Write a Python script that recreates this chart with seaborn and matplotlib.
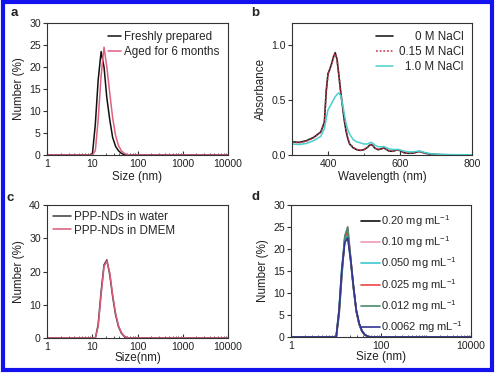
import numpy as np
import pandas as pd
import matplotlib
matplotlib.use("Agg")
import matplotlib.pyplot as plt
import seaborn as sns
from matplotlib.patches import Rectangle
from matplotlib.ticker import LogLocator, NullFormatter, FixedLocator

# ---------------- data ----------------
# Panel a: DLS size distribution, fresh vs aged
size_a = [1, 9.0, 10.1, 11.7, 13.5, 15.7, 18.2, 21.0, 24.4, 28.2, 32.7, 37.8, 43.8, 50.7, 58.8, 68.1, 10000]
fresh_a = [0, 0, 0.3, 7.0, 17.0, 23.5, 20.0, 13.0, 8.0, 4.0, 2.0, 1.0, 0.4, 0.1, 0, 0, 0]
aged_a = [0, 0, 0, 1.0, 8.0, 18.0, 24.5, 20.0, 14.0, 8.5, 4.5, 2.2, 1.0, 0.4, 0.1, 0, 0]
labels_a = ["Freshly prepared", "Aged for 6 months"]

# Panel b: absorbance spectra
wl_b = [300, 320, 340, 360, 380, 390, 395, 400, 405, 410, 415, 420, 425, 430, 435, 440, 445, 450,
        455, 460, 470, 480, 490, 500, 510, 515, 520, 525, 530, 540, 550, 555, 560, 570, 580, 590,
        595, 600, 610, 620, 630, 640, 650, 655, 660, 670, 680, 690, 700, 720, 750, 800]
abs_0 = [0.12, 0.115, 0.13, 0.16, 0.21, 0.30, 0.58, 0.74, 0.78, 0.83, 0.89, 0.93, 0.87, 0.73, 0.58,
         0.45, 0.32, 0.22, 0.15, 0.10, 0.065, 0.048, 0.042, 0.048, 0.07, 0.088, 0.095, 0.085, 0.062,
         0.048, 0.058, 0.065, 0.055, 0.035, 0.034, 0.044, 0.047, 0.04, 0.022, 0.016, 0.016, 0.02,
         0.03, 0.031, 0.026, 0.016, 0.01, 0.006, 0.004, 0.002, 0.001, 0.0]
abs_015 = [0.115, 0.11, 0.125, 0.155, 0.205, 0.29, 0.57, 0.73, 0.78, 0.82, 0.88, 0.92, 0.87, 0.74,
           0.59, 0.46, 0.33, 0.23, 0.155, 0.105, 0.068, 0.05, 0.044, 0.05, 0.072, 0.09, 0.097, 0.087,
           0.064, 0.05, 0.06, 0.066, 0.056, 0.036, 0.035, 0.045, 0.048, 0.041, 0.023, 0.017, 0.017,
           0.021, 0.031, 0.032, 0.027, 0.017, 0.011, 0.007, 0.005, 0.003, 0.001, 0.0]
abs_1 = [0.10, 0.095, 0.105, 0.13, 0.17, 0.24, 0.33, 0.41, 0.44, 0.47, 0.50, 0.53, 0.55, 0.565, 0.54,
         0.47, 0.38, 0.29, 0.23, 0.19, 0.14, 0.12, 0.11, 0.10, 0.10, 0.11, 0.115, 0.105, 0.09, 0.075,
         0.075, 0.077, 0.07, 0.055, 0.05, 0.05, 0.052, 0.046, 0.036, 0.03, 0.028, 0.03, 0.035, 0.036,
         0.031, 0.022, 0.015, 0.01, 0.008, 0.005, 0.003, 0.002]
labels_b = ["0 M NaCl", "0.15 M NaCl", "1.0 M NaCl"]

# Panel c: water vs DMEM
size_c = [1, 10.1, 11.7, 13.5, 15.7, 18.2, 21.0, 24.4, 28.2, 32.7, 37.8, 43.8, 50.7, 58.8, 68.1, 10000]
water_c = [0, 0, 0, 4.0, 14.0, 22.0, 23.5, 19.0, 12.5, 7.0, 3.5, 1.5, 0.5, 0.1, 0, 0]
dmem_c = [0, 0, 0, 3.5, 13.0, 21.5, 23.2, 19.5, 13.0, 7.5, 3.8, 1.7, 0.6, 0.15, 0, 0]
labels_c = ["PPP-NDs in water", "PPP-NDs in DMEM"]

# Panel d: concentration series
size_d = [1, 10.1, 11.7, 13.5, 15.7, 18.2, 21.0, 24.4, 28.2, 32.7, 37.8, 43.8, 50.7, 58.8, 10000]
d_020 = [0, 0, 6.0, 15.0, 22.0, 23.5, 18.0, 11.5, 6.0, 3.0, 1.3, 0.5, 0.15, 0, 0]
d_010 = [0, 0, 5.0, 14.0, 22.5, 25.0, 18.5, 11.5, 6.0, 3.0, 1.3, 0.5, 0.15, 0, 0]
d_0050 = [0, 0, 6.5, 16.0, 22.5, 23.0, 17.5, 11.0, 5.8, 2.9, 1.3, 0.5, 0.15, 0, 0]
d_0025 = [0, 0, 5.5, 14.5, 22.5, 24.5, 18.0, 11.2, 5.9, 2.9, 1.3, 0.5, 0.15, 0, 0]
d_0012 = [0, 0, 5.0, 14.0, 23.0, 25.0, 18.2, 11.3, 6.0, 3.0, 1.3, 0.5, 0.15, 0, 0]
d_00062 = [0, 0, 6.0, 15.5, 21.5, 22.5, 17.8, 11.6, 6.2, 3.1, 1.4, 0.5, 0.15, 0, 0]
labels_d = ["0.20 mg mL$^{-1}$", "0.10 mg mL$^{-1}$", "0.050 mg mL$^{-1}$",
            "0.025 mg mL$^{-1}$", "0.012 mg mL$^{-1}$", "0.0062 mg mL$^{-1}$"]

# ---------------- style ----------------
sns.set_style("ticks")
plt.rcParams["font.family"] = ["Liberation Sans", "DejaVu Sans"]
plt.rcParams["mathtext.default"] = "regular"
plt.rcParams["axes.linewidth"] = 0.8
TXT = "#222222"

W, H = 500, 376
fig = plt.figure(figsize=(W / 100, H / 100), dpi=100)


def mk_ax(l, r, t, b):
    return fig.add_axes([l / W, 1 - b / H, (r - l) / W, (b - t) / H])


ax_a = mk_ax(47, 228, 23, 155)
ax_b = mk_ax(292, 472, 23, 155)
ax_c = mk_ax(47, 228, 205, 338)
ax_d = mk_ax(291, 471, 205, 337)

LW = 1.1


def style_log(ax, ymax, ystep, labels_every=1):
    ax.set_xscale("log")
    ax.set_xlim(1, 10000)
    ax.set_ylim(0, ymax)
    ax.set_yticks(np.arange(0, ymax + 0.01, ystep))
    maj = [1, 10, 100, 1000, 10000][::labels_every]
    ax.xaxis.set_major_locator(FixedLocator(maj))
    ax.set_xticklabels([str(m) for m in maj])
    ax.xaxis.set_minor_locator(LogLocator(base=10, subs=np.arange(1, 10), numticks=20))
    ax.xaxis.set_minor_formatter(NullFormatter())


def common(ax):
    for s in ax.spines.values():
        s.set_visible(True)
        s.set_color("#333333")
    ax.tick_params(axis="x", which="major", direction="in", length=3, width=0.8,
                   labelsize=7.6, colors="#333333", labelcolor=TXT, pad=3)
    ax.tick_params(axis="x", which="minor", direction="in", length=1.8, width=0.6, colors="#333333")
    ax.tick_params(axis="y", which="major", direction="out", length=3, width=0.8,
                   labelsize=7.6, colors="#333333", labelcolor=TXT, pad=1.5)


# Panel a
dfa = pd.DataFrame({"size": size_a, "fresh": fresh_a, "aged": aged_a})
sns.lineplot(data=dfa, x="size", y="fresh", ax=ax_a, color="#111111", lw=LW, label=labels_a[0])
sns.lineplot(data=dfa, x="size", y="aged", ax=ax_a, color="#e0607f", lw=LW, label=labels_a[1])
style_log(ax_a, 30, 5)
common(ax_a)
ax_a.set_xlabel("Size (nm)", fontsize=8.4, color=TXT, labelpad=1)
ax_a.set_ylabel("Number (%)", fontsize=8.4, color=TXT, labelpad=3)
ax_a.legend(frameon=False, loc="upper right", fontsize=8.4, handlelength=1.1,
            handletextpad=0.3, labelspacing=0.25, borderaxespad=0.3)

# Panel b
dfb = pd.DataFrame({"wl": wl_b, "a0": abs_0, "a015": abs_015, "a1": abs_1})
sns.lineplot(data=dfb, x="wl", y="a0", ax=ax_b, color="#222222", lw=1.2, label=labels_b[0])
sns.lineplot(data=dfb, x="wl", y="a015", ax=ax_b, color="#d2304a", lw=1.1, ls=(0, (1.2, 1.2)), label=labels_b[1])
sns.lineplot(data=dfb, x="wl", y="a1", ax=ax_b, color="#4ccfcf", lw=1.1, label=labels_b[2])
ax_b.set_xlim(300, 800)
ax_b.set_ylim(0, 1.2)
ax_b.set_xticks([400, 600, 800])
ax_b.set_xticks([300, 500, 700], minor=True)
ax_b.set_yticks([0.0, 0.5, 1.0])
ax_b.set_yticklabels(["0.0", "0.5", "1.0"])
common(ax_b)
ax_b.set_xlabel("Wavelength (nm)", fontsize=8.4, color=TXT, labelpad=1)
ax_b.set_ylabel("Absorbance", fontsize=8.4, color=TXT, labelpad=3)
leg_b = ax_b.legend(frameon=False, loc="upper right", fontsize=8.4, handlelength=1.5,
                    handletextpad=0.5, labelspacing=0.25, borderaxespad=0.3)

# Panel c
dfc = pd.DataFrame({"size": size_c, "water": water_c, "dmem": dmem_c})
sns.lineplot(data=dfc, x="size", y="water", ax=ax_c, color="#3a3a3a", lw=LW, label=labels_c[0])
sns.lineplot(data=dfc, x="size", y="dmem", ax=ax_c, color="#d65a78", lw=LW, label=labels_c[1])
style_log(ax_c, 40, 10)
common(ax_c)
ax_c.set_xlabel("Size(nm)", fontsize=8.4, color=TXT, labelpad=0)
ax_c.set_ylabel("Number (%)", fontsize=8.4, color=TXT, labelpad=3)
ax_c.legend(frameon=False, loc="upper left", fontsize=8.4, handlelength=1.5,
            handletextpad=0.3, labelspacing=0.1, borderaxespad=0.15)

# Panel d
dfd = pd.DataFrame({"size": size_d, "c1": d_020, "c2": d_010, "c3": d_0050,
                    "c4": d_0025, "c5": d_0012, "c6": d_00062})
colors_d = ["#111111", "#ee9ab5", "#3cc6d2", "#ee4444", "#4a8a6e", "#343494"]
for col, c, lab in zip(["c1", "c2", "c3", "c4", "c5", "c6"], colors_d, labels_d):
    sns.lineplot(data=dfd, x="size", y=col, ax=ax_d, color=c, lw=1.2, label=lab)
style_log(ax_d, 30, 5, labels_every=2)
common(ax_d)
ax_d.set_xlabel("Size (nm)", fontsize=8.4, color=TXT, labelpad=0)
ax_d.set_ylabel("Number (%)", fontsize=8.4, color=TXT, labelpad=3)
ax_d.legend(frameon=False, loc="upper right", fontsize=8.0, handlelength=1.7,
            handletextpad=0.1, labelspacing=0.5, borderaxespad=0.3)

# Panel letters
for txt, x, y in [("a", 14, 13), ("b", 255, 13), ("c", 10, 198), ("d", 255, 197)]:
    fig.text(x / W, 1 - y / H, txt, fontsize=9.5, fontweight="bold", color=TXT,
             ha="center", va="center")

# right-align legend texts in panel b
fig.canvas.draw()
rend = fig.canvas.get_renderer()
widths = [t.get_window_extent(rend).width for t in leg_b.get_texts()]
shift = max(widths)
for t, w in zip(leg_b.get_texts(), widths):
    t.set_position((shift - w, 0))

# blue frame
fig.patches.append(Rectangle((3.0 / W, 1 - 369.5 / H), (492.0 - 3.0) / W, (369.5 - 1.5) / H,
                             transform=fig.transFigure, fill=False, edgecolor="#1212ee",
                             lw=3.0, zorder=10))

fig.savefig("out.png", dpi=100)
